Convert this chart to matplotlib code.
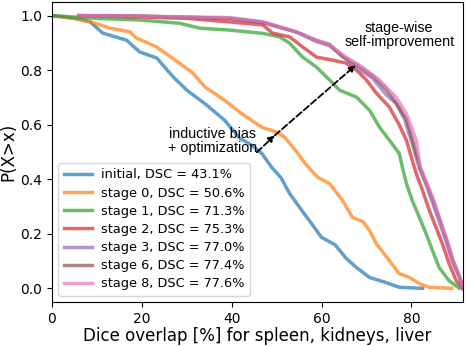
import matplotlib
matplotlib.use("Agg")
import matplotlib.pyplot as plt

labels = ["initial, DSC = 43.1%", "stage 0, DSC = 50.6%", "stage 1, DSC = 71.3%",
          "stage 2, DSC = 75.3%", "stage 3, DSC = 77.0%", "stage 6, DSC = 77.4%",
          "stage 8, DSC = 77.6%"]
colors = ["tab:blue", "tab:orange", "tab:green", "tab:red", "tab:purple", "tab:brown", "tab:pink"]

init_x = [0, 5, 8.4, 11.3, 16.6, 19.5, 23.3, 27, 30, 34.2, 38.4, 41.8, 44, 46.7, 48.9, 51, 52.9, 55.6, 57.8, 60, 63, 65.5, 67.8, 70.7, 74.4, 77.3, 82.5]
init_y = [1.0, 0.99, 0.978, 0.936, 0.91, 0.867, 0.845, 0.775, 0.727, 0.675, 0.617, 0.55, 0.53, 0.495, 0.444, 0.405, 0.348, 0.286, 0.237, 0.187, 0.16, 0.11, 0.076, 0.04, 0.021, 0.004, 0.0]

s0_x = [0, 5, 8.4, 10.7, 12.9, 17.3, 18.8, 23.3, 27, 31.4, 34, 38.4, 42.2, 46.7, 50.2, 51.8, 54.5, 56.5, 59.1, 61.8, 64.7, 66.9, 69.2, 70.7, 72.2, 75.1, 77.3, 79.6, 81.8, 84, 89]
s0_y = [1.0, 0.99, 0.978, 0.966, 0.954, 0.941, 0.918, 0.885, 0.842, 0.789, 0.739, 0.69, 0.641, 0.591, 0.572, 0.554, 0.5, 0.455, 0.408, 0.384, 0.322, 0.26, 0.245, 0.212, 0.164, 0.102, 0.054, 0.04, 0.017, 0.004, 0.0]

s1_x = [0, 10, 19.5, 28.4, 32.9, 39.5, 46.9, 50.7, 52.9, 55.8, 58.9, 61.8, 64, 67.8, 70.7, 72.9, 75.5, 77.3, 78, 78.9, 80.2, 81.8, 83.3, 84.7, 86.2, 88.4, 90.7]
s1_y = [1.0, 0.99, 0.984, 0.972, 0.954, 0.947, 0.935, 0.922, 0.899, 0.848, 0.811, 0.764, 0.727, 0.701, 0.653, 0.591, 0.535, 0.495, 0.444, 0.384, 0.322, 0.26, 0.2, 0.139, 0.076, 0.028, 0.0]

s2_x = [6, 20, 30, 39.5, 46.9, 49.1, 52.9, 55.8, 58.9, 62.4, 65.5, 67.8, 70, 72.2, 75.1, 77.3, 78.9, 80.2, 81.1, 82.5, 84, 85.5, 86.9, 88.4, 90, 91.4]
s2_y = [1.0, 0.995, 0.99, 0.977, 0.966, 0.936, 0.922, 0.885, 0.848, 0.837, 0.826, 0.8, 0.764, 0.716, 0.665, 0.6, 0.543, 0.47, 0.42, 0.359, 0.286, 0.223, 0.164, 0.091, 0.028, 0.0]

s3_x = [6, 20, 39.5, 47, 54.4, 58.9, 61.8, 64.7, 67.8, 71.4, 74.4, 76.6, 78.5, 80.2, 81.8, 83.3, 84.7, 86.2, 87.8, 89.1, 90.7, 91.4]
s3_y = [1.0, 0.998, 0.99, 0.975, 0.94, 0.91, 0.895, 0.85, 0.81, 0.77, 0.71, 0.677, 0.62, 0.53, 0.44, 0.38, 0.315, 0.245, 0.17, 0.1, 0.04, 0.0]

s6_x = [6, 20, 39.5, 47, 54.4, 58.9, 61.8, 64.7, 67.8, 71.4, 74.4, 76.6, 78.9, 80.5, 82, 83.5, 85, 86.5, 88, 89.3, 90.8, 91.4]
s6_y = [1.0, 0.998, 0.99, 0.975, 0.94, 0.905, 0.89, 0.85, 0.82, 0.78, 0.73, 0.68, 0.62, 0.53, 0.44, 0.38, 0.315, 0.245, 0.17, 0.1, 0.04, 0.0]

s8_x = [6, 20, 39.5, 47, 54.4, 59.6, 62, 65.5, 69.1, 72.9, 76.6, 78.9, 81.1, 82, 83.5, 85, 86.4, 88, 89.3, 90.8, 91.4]
s8_y = [1.0, 0.998, 0.993, 0.978, 0.94, 0.904, 0.89, 0.848, 0.811, 0.764, 0.701, 0.641, 0.543, 0.444, 0.384, 0.322, 0.249, 0.175, 0.102, 0.04, 0.0]

series = [(init_x, init_y), (s0_x, s0_y), (s1_x, s1_y), (s2_x, s2_y),
          (s3_x, s3_y), (s6_x, s6_y), (s8_x, s8_y)]

W, H = 466, 346
fig = plt.figure(figsize=(W / 100, H / 100), dpi=100)
ax = fig.add_axes([52 / W, (H - 302) / H, (463 - 52) / W, 300 / H])

for (xs, ys), lab, c in zip(series, labels, colors):
    ax.plot(xs, ys, color=c, lw=2.5, alpha=0.7, label=lab)

ax.set_xlim(0, 91.5)
ax.set_ylim(-0.05, 1.05)
ax.set_xticks([0, 20, 40, 60, 80])
ax.set_yticks([0.0, 0.2, 0.4, 0.6, 0.8, 1.0])
ax.tick_params(labelsize=10)
ax.set_xlabel("Dice overlap [%] for spleen, kidneys, liver", fontsize=12)
ax.set_ylabel("P(X>x)", fontsize=12)
ax.xaxis.set_label_coords(0.5, (302 - 327) / 300)
ax.yaxis.set_label_coords((17 - 52) / 411, 0.5)

ax.legend(loc="lower left", fontsize=9.3, handlelength=2.2, labelspacing=0.4,
          borderpad=0.4, handletextpad=0.7)

# annotations
arrow_kw = dict(arrowstyle="-|>", color="black", lw=1.3, ls="--",
                mutation_scale=9, shrinkA=0, shrinkB=0)
ax.annotate("", xy=(49.6, 0.561), xytext=(45.6, 0.499), arrowprops=arrow_kw)
ax.annotate("", xy=(67.6, 0.818), xytext=(49.6, 0.561), arrowprops=arrow_kw)
ax.text(35.8, 0.54, "inductive bias\n+ optimization", ha="center", va="center",
        fontsize=10.3, family="Liberation Sans", linespacing=1.0)
ax.text(77.3, 0.929, "stage-wise\nself-improvement", ha="center", va="center",
        fontsize=10.3, family="Liberation Sans", linespacing=1.0)

fig.savefig("out.png", dpi=100)
